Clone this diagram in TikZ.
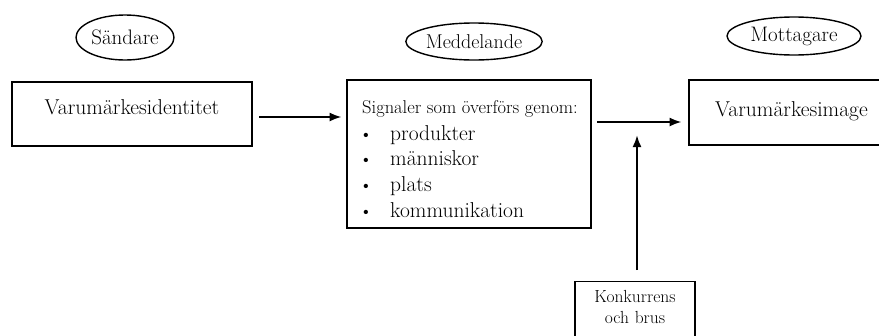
\documentclass[tikz,border=0pt]{standalone}
\usepackage{fontspec}
\setmainfont{Latin Modern Roman}
\usetikzlibrary{shapes.geometric,arrows.meta}
\begin{document}
\begin{tikzpicture}[x=1pt,y=-1pt,
  mainbox/.style={draw, line width=2.7pt, rectangle, inner sep=0pt, font=\fontsize{21.5}{26}\selectfont},
  oval/.style={draw, ellipse, line width=1.4pt, inner sep=0pt, font=\fontsize{21}{24}\selectfont},
  noisebox/.style={draw, line width=1.3pt, rectangle, inner xsep=0pt, inner ysep=9pt, text width=120pt, align=center, font=\fontsize{17.5}{21}\selectfont},
  itemtext/.style={anchor=base west, inner sep=0pt, font=\fontsize{21.5}{26}\selectfont},
  bullet/.style={anchor=base, inner sep=0pt, font=\fontsize{19}{23}\selectfont},
  arr/.style={line width=2.2pt, -{Latex[length=12pt,width=9pt]}}]
\useasboundingbox (0,0) rectangle (879,335);
\fill[white] (0,0) rectangle (879,335);
% ellipses
\node[oval, minimum width=98pt, minimum height=45pt] (snd) at (125,37.5) {Sändare};
\node[oval, minimum width=124pt, minimum height=37pt, font=\fontsize{20}{24}\selectfont] (med) at (474,41.5) {Meddelande};
\node[oval, minimum width=134pt, minimum height=38pt] (mot) at (794,36) {Mottagare};
% boxes
\node[mainbox, minimum width=240pt, minimum height=64pt, text depth=13pt] (idn) at (132,114) {Varumärkesidentitet};
\node[mainbox, minimum width=244pt, minimum height=148pt] (msg) at (469,154) {};
\node[anchor=base west, inner sep=0pt, font=\fontsize{18.5}{22}\selectfont] (sig) at (362,113) {Signaler som överförs genom:};
\node[bullet] (b1) at (366,140) {\textbullet};
\node[itemtext] (i1) at (390,140) {produkter};
\node[bullet] (b2) at (366,165.5) {\textbullet};
\node[itemtext] (i2) at (390,165.5) {människor};
\node[bullet] (b3) at (366,191) {\textbullet};
\node[itemtext] (i3) at (390,191) {plats};
\node[bullet] (b4) at (366,217) {\textbullet};
\node[itemtext] (i4) at (390,217) {kommunikation};
\node[mainbox, minimum width=205pt, minimum height=65pt, text depth=6pt] (img) at (791.5,112.5) {Varumärkesimage};
\node[noisebox, anchor=north] (noise) at (635,281)
  {Konkurrens\\och brus\rule[-16pt]{0pt}{16pt}};
% connectors
\coordinate (a1) at (0,117);
\coordinate (a2) at (0,122);
\draw[arr, shorten <=6pt, shorten >=4pt] (idn.east |- a1) -- (msg.west |- a1);
\draw[arr, shorten <=5pt, shorten >=6pt] (msg.east |- a2) -- (img.west |- a2);
\draw[arr, shorten <=11pt, shorten >=13pt] ([xshift=2pt]noise.north) -- ([xshift=2pt]noise.north |- a2);
\end{tikzpicture}
\end{document}
